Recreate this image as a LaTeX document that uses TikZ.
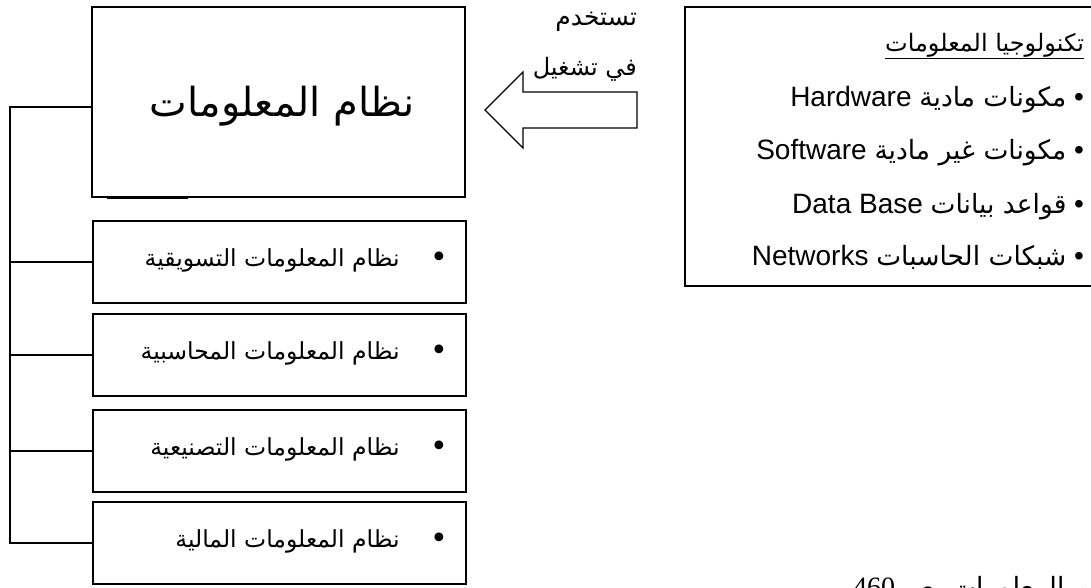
\documentclass[tikz,border=0pt]{standalone}
\usepackage{fontspec}
\setmainfont{Liberation Sans}
\newfontfamily\arabicfont[Script=Arabic]{DejaVu Sans}
\newfontfamily\latfont{Liberation Sans}
\newfontfamily\serfont{Liberation Serif}
\TeXXeTstate=1
\usetikzlibrary{calc}
\tikzset{
  frame/.style={draw=black, line width=1.2pt, rectangle, inner sep=0pt},
  wire/.style={draw=black, line width=1.2pt},
  plain/.style={inner sep=0pt, outer sep=0pt},
}
\newcommand{\ar}[1]{{\arabicfont\beginR #1\endR}}
\begin{document}
\begin{tikzpicture}[x=1pt,y=-1pt]
\useasboundingbox (0,0) rectangle (1091,588);
\clip (0,0) rectangle (1091,588);
\fill[white] (0,0) rectangle (1091,588);

% main system box
\node[frame, minimum width=373pt, minimum height=190pt] (main) at (278.5,102) {};
\node[plain, font=\fontsize{40}{44}\selectfont] (maintext) at (282,106) {\ar{نظام المعلومات}};
\draw[line width=2.4pt, black] (107,197.5) -- (188,197.5);

% subsystem boxes
\foreach \n/\y in {b1/262, b2/355, b3/451, b4/543} {
  \node[frame, minimum width=373pt, minimum height=82pt] (\n) at (279.5,\y) {};
}
\tikzset{subtext/.style={plain, anchor=east, font=\fontsize{23.5}{27}\selectfont}}
\node[subtext] (t1) at ([xshift=-67pt,yshift=2pt]b1.east) {\ar{نظام المعلومات التسويقية}};
\node[subtext] (t2) at ([xshift=-67pt,yshift=2pt]b2.east) {\ar{نظام المعلومات المحاسبية}};
\node[subtext] (t3) at ([xshift=-67pt,yshift=2pt]b3.east) {\ar{نظام المعلومات التصنيعية}};
\node[subtext] (t4) at ([xshift=-67pt,yshift=2pt]b4.east) {\ar{نظام المعلومات المالية}};
\foreach \n in {b1,b2,b3,b4} {
  \node[plain, font=\fontsize{30}{30}\selectfont] at ([xshift=-27pt,yshift=2pt]\n.east) {\arabicfont •};
}

% left rail joining the boxes
\coordinate (rail) at (10,0);
\draw[wire] ([yshift=-5pt]main.west) -- ([yshift=-5pt]main.west -| rail) |- (b4.west);
\foreach \n in {b1,b2,b3} {
  \draw[wire] (\n.west) -- (\n.west -| rail);
}

% information technology box
\node[frame, minimum width=420pt, minimum height=279pt] (itbox) at (895,146.5) {};
\node[plain, anchor=east, font=\fontsize{24}{28}\selectfont] (ithead) at (1084,46) {\underline{\ar{تكنولوجيا المعلومات}}};
\tikzset{item/.style={plain, anchor=east, font=\fontsize{28}{32}\selectfont}}
\newcommand{\arpart}[1]{{\fontsize{26.5}{30}\selectfont\ar{#1}}}
\node[item] (i1) at (1084,100) {{\latfont Hardware} \arpart{مكونات مادية} •};
\node[item] (i2) at (1084,153) {{\latfont Software} \arpart{مكونات غير مادية} •};
\node[item] (i3) at (1084,207) {{\latfont Data Base} \arpart{قواعد بيانات} •};
\node[item] (i4) at (1084,257) {{\latfont Networks} \arpart{شبكات الحاسبات} •};

% block arrow pointing at the system
\draw[line width=1.2pt, fill=white]
  (637,92) -- (523,92) -- (523,72) -- (485,110) -- (523,148) -- (523,128) -- (637,128) -- cycle;
\node[plain, anchor=east, font=\fontsize{25}{28}\selectfont] (use1) at (637,22) {\ar{تستخدم}};
\node[plain, anchor=east, font=\fontsize{24}{28}\selectfont] (use2) at (637,69) {\ar{في تشغيل}};

% source line at the foot
\node[plain, anchor=base west, font=\fontsize{28}{32}\selectfont] (src) at (853,596)
  {{\serfont 460} \arpart{ص} \arpart{المصدر: طارق طه، نظم المعلومات،}};
\end{tikzpicture}
\end{document}
